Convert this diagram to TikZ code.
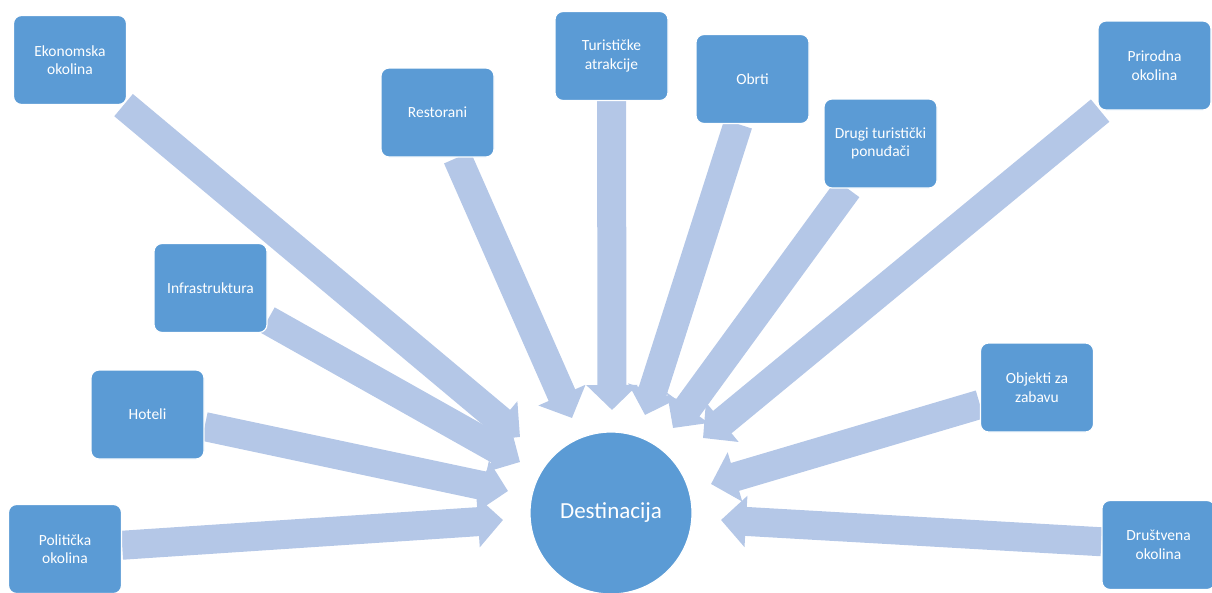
\documentclass[tikz,border=0pt]{standalone}
\usepackage{fontspec}
\setmainfont{Carlito}
\usetikzlibrary{arrows.meta,backgrounds}
\definecolor{boxblue}{HTML}{5B9BD5}
\definecolor{arrblue}{HTML}{B4C7E7}
\begin{document}
\begin{tikzpicture}[x=1pt,y=-1pt,
 box/.style={rectangle, rounded corners=8pt, fill=boxblue, draw=white, line width=1.2pt,
   minimum width=113pt, minimum height=89pt, text=white, align=center,
   font=\fontsize{15.5}{18.5}\selectfont, inner sep=0pt},
 arr/.style={draw=arrblue, line width=29pt, -{Triangle[width=50pt,length=25pt]}}]
\useasboundingbox (0,0) rectangle (1212,592);
\clip (0,0) rectangle (1212,592);
% boxes
\node[box] (ekon) at (70,60) {Ekonomska\\okolina};
\node[box] (rest) at (437.5,112.5) {Restorani};
\node[box] (tur) at (611.5,56) {Turističke\\atrakcije};
\node[box] (obrti) at (752.5,79) {Obrti};
\node[box] (drugi) at (880.5,143.5) {Drugi turistički\\ponuđači};
\node[box] (prir) at (1154.5,65.5) {Prirodna\\okolina};
\node[box] (infra) at (210.5,288) {Infrastruktura};
\node[box] (hot) at (147.5,414.5) {Hoteli};
\node[box] (pol) at (65,549) {Politička\\okolina};
\node[box] (obj) at (1037,387.5) {Objekti za\\zabavu};
\node[box] (drus) at (1158.5,545) {Društvena\\okolina};
% destination
\node[circle, fill=boxblue, draw=white, line width=1.2pt, minimum size=162pt, inner sep=0pt,
  text=white, font=\fontsize{23}{27}\selectfont] (dest) at (611,513) {Destinacija};
% arrow tips
\coordinate (tE) at (520,437);
\coordinate (tI) at (520,462);
\coordinate (tH) at (508,491);
\coordinate (tP) at (503,520);
\coordinate (tR) at (572,418);
\coordinate (tT) at (612,410);
\coordinate (tO) at (645,415);
\coordinate (tD) at (673,428);
\coordinate (tPr) at (703,438);
\coordinate (tOb) at (711,484);
\coordinate (tDr) at (721,520);
\begin{scope}[on background layer]
\draw[arr] (ekon) -- (tE);
\draw[arr] (infra) -- (tI);
\draw[arr] (hot) -- (tH);
\draw[arr] (pol) -- (tP);
\draw[arr] (rest) -- (tR);
\draw[arr] (tur) -- (tT);
\draw[arr] (obrti) -- (tO);
\draw[arr] (drugi) -- (tD);
\draw[arr] (prir) -- (tPr);
\draw[arr] (obj) -- (tOb);
\draw[arr] (drus) -- (tDr);
\end{scope}
\end{tikzpicture}
\end{document}
